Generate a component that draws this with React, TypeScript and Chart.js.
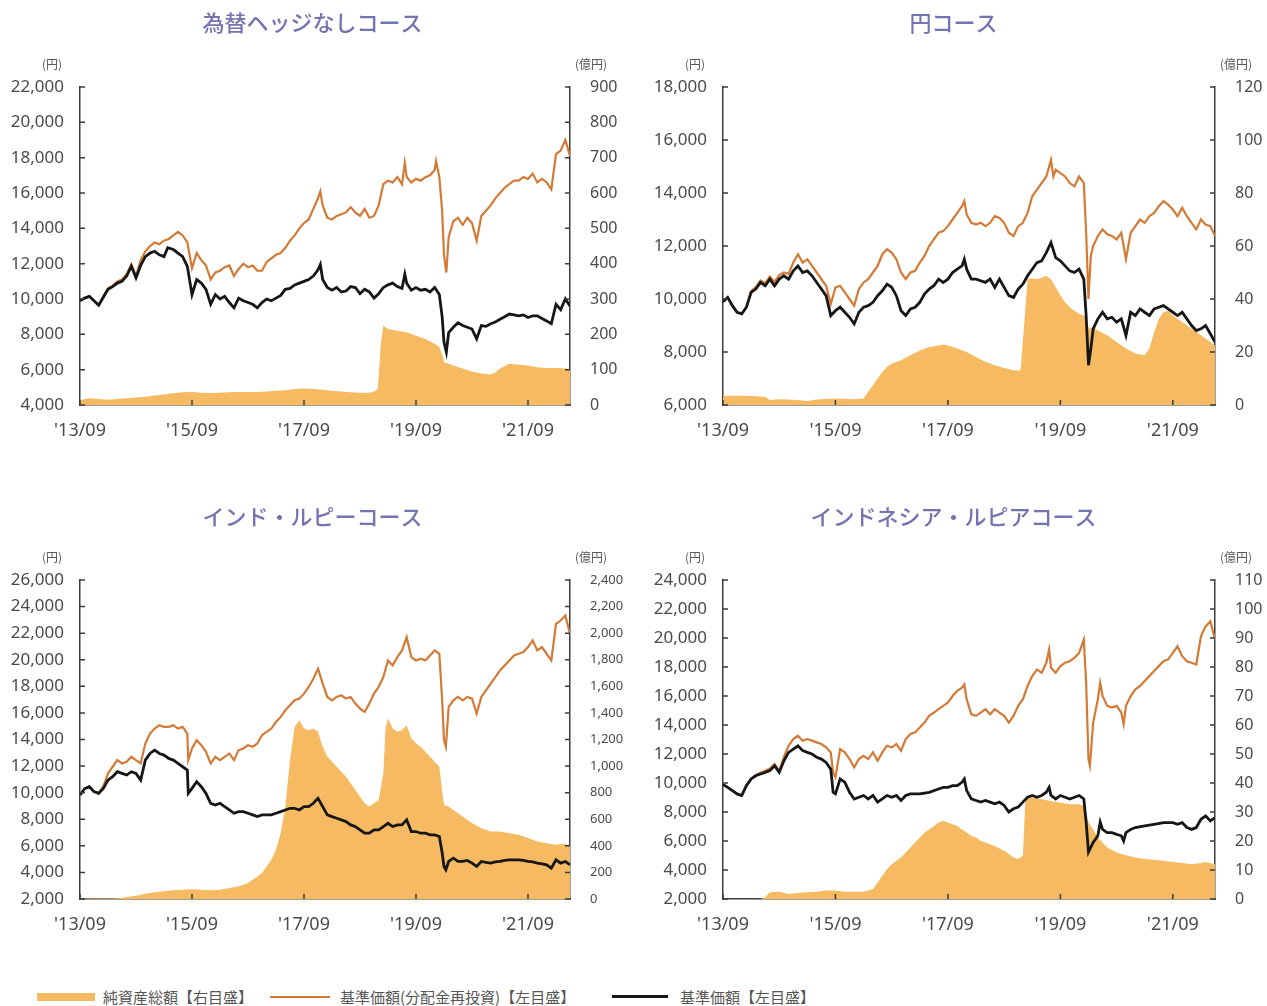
import React, { useEffect, useRef } from 'react';
import { Chart, registerables } from 'chart.js';

Chart.register(...registerables);

type Pt = [number, number];

// ---- shared labels ----
const xTickMonths = [0, 24, 48, 72, 96];
const xTickLabels = ["'13/09", "'15/09", "'17/09", "'19/09", "'21/09"];
const xMaxMonth = 105;
const panelTitles = ['為替ヘッジなしコース', '円コース', 'インド・ルピーコース', 'インドネシア・ルピアコース'];
const leftUnit = '(円)';
const rightUnit = '(億円)';
const seriesLabels = ['純資産総額【右目盛】', '基準価額(分配金再投資)【左目盛】', '基準価額【左目盛】'];

// axis ranges [min, max, step]
const leftRanges: number[][] = [[4000, 22000, 2000], [6000, 18000, 2000], [2000, 26000, 2000], [2000, 24000, 2000]];
const rightRanges: number[][] = [[0, 900, 100], [0, 120, 20], [0, 2400, 200], [0, 110, 10]];

// ---- 為替ヘッジなしコース ----
const c1Base: Pt[] = [[0,9900],[1,10050],[2,10150],[3,9900],[4,9650],[5,10100],[6,10550],[7,10700],[8,10900],[9,11000],[10,11300],[11,11850],[12,11200],[13,11900],[14,12400],[15,12600],[16,12700],[17,12500],[18,12400],[18.8,12900],[20,12800],[21,12600],[22,12400],[23,11850],[24,10250],[25,11100],[26,10900],[27,10550],[28,9700],[29,10250],[30,10000],[31,10150],[32,9800],[33,9500],[34,10050],[35,9900],[36,9800],[37,9700],[38,9500],[39,9800],[40,10000],[41,9900],[42,10050],[43,10200],[44,10550],[45,10600],[46,10800],[47,10900],[48,11000],[49,11100],[50,11300],[51,11650],[51.5,11950],[52,11100],[53,10650],[54,10500],[55,10650],[56,10400],[57,10450],[58,10700],[59,10650],[60,10300],[61,10550],[62,10400],[63,10050],[64,10300],[65,10650],[66,10800],[67,10900],[68,10700],[69,10600],[69.6,11400],[70,10900],[71,10500],[72,10650],[73,10500],[74,10550],[75,10400],[76,10650],[77,10250],[77.6,9000],[78,7550],[78.5,7000],[79,8100],[80,8400],[81,8650],[82,8500],[83,8400],[84,8300],[85,7750],[86,8500],[87,8450],[88,8600],[89,8700],[90,8850],[91,9000],[92,9150],[93,9100],[94,9050],[95,9100],[96,8950],[97,9050],[98,9050],[99,8900],[100,8750],[101,8600],[102,9700],[103,9400],[104,10000],[105,9600]];
const c1Reinv: Pt[] = [[0,9900],[1,10050],[2,10150],[3,9900],[4,9650],[5,10150],[6,10600],[7,10750],[8,11000],[9,11100],[10,11400],[11,11950],[12,11300],[13,12200],[14,12700],[15,13000],[16,13200],[17,13100],[18,13300],[19,13400],[20,13600],[21,13800],[22,13600],[23,13200],[24,11750],[25,12600],[26,12200],[27,11900],[28,11100],[29,11500],[30,11600],[31,11800],[32,11900],[33,11300],[34,11700],[35,12000],[36,11800],[37,11900],[38,11600],[39,11600],[40,12100],[41,12300],[42,12500],[43,12600],[44,12900],[45,13300],[46,13600],[47,14000],[48,14300],[49,14500],[50,15100],[51,15700],[51.5,16100],[52,15300],[53,14600],[54,14500],[55,14700],[56,14800],[57,14900],[58,15200],[59,14900],[60,14700],[61,15100],[62,14600],[63,14700],[64,15300],[65,16500],[66,16700],[67,16600],[68,16900],[69,16500],[69.6,17700],[70,16900],[71,16600],[72,16800],[73,16700],[74,16900],[75,17000],[76,17300],[76.3,17800],[77,16900],[77.6,15000],[78,12500],[78.5,11500],[79,13500],[80,14400],[81,14600],[82,14200],[83,14600],[84,14300],[85,13300],[86,14700],[87,15000],[88,15300],[89,15700],[90,16000],[91,16300],[92,16500],[93,16700],[94,16700],[95,16900],[96,16800],[97,17100],[98,16600],[99,16800],[100,16600],[101,16200],[102,18200],[103,18400],[104,19000],[105,18100]];
const c1Assets: Pt[] = [[0,14],[2,19],[4,17],[6,15],[8,17],[10,19],[12,21],[14,23],[16,27],[18,30],[20,33],[22,36],[24,37],[26,35],[28,34],[30,35],[32,36],[34,37],[36,37],[38,37],[40,38],[42,40],[44,42],[46,45],[48,47],[50,45],[52,43],[54,40],[56,38],[58,36],[60,35],[62,35],[63,38],[63.8,45],[64.5,178],[65,224],[66,215],[68,210],[70,206],[72,196],[74,187],[76,173],[77,164],[77.8,135],[78,121],[79,117],[80,112],[82,103],[84,95],[86,89],[88,86],[89,92],[90,103],[92,117],[94,114],[96,112],[98,107],[100,105],[102,105],[104,103],[105,101]];

// ---- 円コース ----
const c2Base: Pt[] = [[0,9900],[1,10060],[2,9750],[3,9500],[4,9440],[5,9690],[6,10250],[7,10375],[8,10625],[9,10500],[10,10750],[11,10500],[12,10750],[13,10875],[14,10750],[15,11060],[16,11250],[17,11000],[18,11060],[19,10875],[20,10625],[21,10375],[22,10125],[23,9375],[24,9560],[25,9690],[26,9500],[27,9310],[28,9060],[29,9500],[30,9690],[31,9750],[32,9875],[33,10125],[34,10310],[35,10560],[36,10440],[37,10125],[38,9560],[39,9375],[40,9625],[41,9690],[42,9875],[43,10190],[44,10375],[45,10500],[46,10750],[47,10625],[48,10750],[49,11000],[50,11125],[51,11250],[51.5,11500],[52,11125],[53,10750],[54,10750],[55,10690],[56,10625],[57,10750],[58,10440],[59,10750],[60,10440],[61,10125],[62,10060],[63,10375],[64,10560],[65,10875],[66,11125],[67,11375],[68,11440],[69,11750],[70,12125],[71,11560],[72,11440],[73,11250],[74,11060],[75,11000],[76,11125],[77,10750],[77.5,9375],[78,7500],[78.5,8125],[79,8875],[80,9250],[81,9500],[82,9250],[83,9310],[84,9125],[85,9250],[86,8625],[87,9500],[88,9375],[89,9625],[90,9500],[91,9375],[92,9625],[93,9690],[94,9750],[95,9625],[96,9500],[97,9375],[98,9500],[99,9250],[100,9000],[101,8810],[102,8875],[103,9000],[104,8690],[105,8375]];
const c2Reinv: Pt[] = [[0,9900],[1,10060],[2,9750],[3,9500],[4,9440],[5,9700],[6,10300],[7,10450],[8,10700],[9,10600],[10,10850],[11,10650],[12,10900],[13,11000],[14,10950],[15,11375],[16,11690],[17,11375],[18,11500],[19,11250],[20,11000],[21,10750],[22,10500],[23,9810],[24,10440],[25,10500],[26,10250],[27,10000],[28,9750],[29,10375],[30,10625],[31,10750],[32,11000],[33,11250],[34,11690],[35,11875],[36,11750],[37,11500],[38,11000],[39,10750],[40,11000],[41,11060],[42,11375],[43,11625],[44,12000],[45,12250],[46,12500],[47,12560],[48,12750],[49,13000],[50,13250],[51,13500],[51.5,13690],[52,13190],[53,12875],[54,12810],[55,12875],[56,12750],[57,12875],[58,13125],[59,13060],[60,12875],[61,12500],[62,12375],[63,12750],[64,12875],[65,13250],[66,13875],[67,14125],[68,14375],[69,14625],[70,15250],[70.5,14625],[71,14875],[72,14750],[73,14625],[74,14375],[75,14250],[76,14625],[77,14375],[77.5,12500],[78,10000],[78.5,11625],[79,12000],[80,12375],[81,12625],[82,12440],[83,12375],[84,12250],[85,12500],[86,11500],[87,12500],[88,12750],[89,13000],[90,12875],[91,13125],[92,13250],[93,13500],[94,13690],[95,13560],[96,13375],[97,13125],[98,13440],[99,13125],[100,12875],[101,12625],[102,13000],[103,12810],[104,12750],[105,12375]];
const c2Assets: Pt[] = [[0,3.5],[5,3.5],[9,3.1],[10,1.9],[12,2.2],[16,1.9],[18,1.5],[20,2.1],[24,2.5],[28,2.2],[30,2.5],[31,5],[32,7.5],[33,10],[34,12.5],[35,14.4],[36,15.6],[37,16.3],[38,16.9],[40,18.8],[42,20.6],[44,21.9],[46,22.5],[47,22.8],[48,22.5],[50,21.3],[52,20],[54,18.1],[56,16.3],[58,15],[60,14],[62,13.1],[63.5,13],[64.3,31],[65,47.5],[66,47.8],[67,47.5],[68,48],[69,48.8],[70,47.5],[71,44.4],[72,41.3],[73,38.8],[74,36.9],[75,35.6],[76,34.4],[77,33.8],[77.8,31],[78,28.8],[79,29.4],[80,28.1],[82,26.3],[84,23.8],[86,21.3],[88,19.4],[90,18.8],[91,21.3],[92,27.5],[93,32.5],[94,35],[95,35.6],[96,33.8],[98,31.3],[100,28.8],[102,26.3],[104,23.8],[105,22.5]];

// ---- インド・ルピーコース ----
const c3Base: Pt[] = [[0,9825],[1,10300],[2,10450],[3,10075],[4,9950],[5,10325],[6,10950],[7,11200],[8,11575],[9,11450],[10,11325],[11,11575],[12,11450],[13,10950],[14,12450],[15,12950],[16,13200],[17,12950],[18,12825],[19,12575],[20,12450],[21,12200],[22,11950],[23,11700],[23.2,9950],[24,10325],[25,10825],[26,10450],[27,9950],[28,9200],[29,9075],[30,9200],[31,8950],[32,8700],[33,8450],[34,8575],[35,8575],[36,8450],[37,8325],[38,8200],[39,8325],[40,8325],[41,8325],[42,8450],[43,8575],[44,8700],[45,8825],[46,8825],[47,8700],[48,8950],[49,8950],[50,9200],[51,9575],[52,8950],[53,8325],[54,8200],[55,8075],[56,7950],[57,7825],[58,7575],[59,7450],[60,7200],[61,6950],[62,6950],[63,7200],[64,7200],[65,7450],[66,7700],[67,7450],[68,7575],[69,7575],[70,7950],[71,7075],[72,7075],[73,6950],[74,6950],[75,6825],[76,6825],[77,6700],[77.6,5500],[78,4450],[78.4,4200],[79,4825],[80,5075],[81,4825],[82,4825],[83,4900],[84,4700],[85,4450],[86,4825],[87,4750],[88,4700],[89,4800],[90,4825],[91,4900],[92,4950],[93,4950],[94,4950],[95,4900],[96,4825],[97,4800],[98,4700],[99,4650],[100,4575],[101,4325],[102,4950],[103,4700],[104,4825],[105,4575]];
const c3Reinv: Pt[] = [[0,9825],[1,10300],[2,10450],[3,10075],[4,9950],[5,10500],[6,11450],[7,11950],[8,12450],[9,12200],[10,12325],[11,12700],[12,12450],[13,12200],[14,13700],[15,14450],[16,14825],[17,15075],[18,14950],[19,14950],[20,15075],[21,14825],[22,14950],[23,14450],[23.2,12450],[24,13325],[25,13950],[26,13575],[27,13075],[28,12200],[29,12700],[30,12450],[31,12700],[32,12950],[33,12450],[34,13200],[35,13325],[36,13575],[37,13450],[38,13700],[39,14325],[40,14575],[41,14825],[42,15325],[43,15700],[44,16200],[45,16575],[46,16950],[47,17075],[48,17450],[49,17950],[50,18575],[51,19325],[52,18200],[53,17200],[54,16950],[55,17200],[56,17325],[57,17075],[58,17200],[59,16700],[60,16325],[61,16075],[62,16700],[63,17450],[64,17950],[65,18700],[66,19950],[67,19575],[68,20200],[69,20700],[70,21700],[71,20200],[72,19950],[73,20075],[74,19950],[75,20325],[76,20700],[77,20450],[77.6,17000],[78,13950],[78.4,13450],[79,16450],[80,16950],[81,17200],[82,16950],[83,17200],[84,17075],[85,15950],[86,17200],[87,17700],[88,18200],[89,18700],[90,19200],[91,19575],[92,19950],[93,20325],[94,20450],[95,20575],[96,20950],[97,21450],[98,20700],[99,20950],[100,20450],[101,19950],[102,22700],[103,22950],[104,23325],[105,21950]];
const c3Assets: Pt[] = [[0,3],[4,4],[8,6],[10,15],[12,25],[14,40],[16,50],[18,58],[20,65],[22,70],[24,73],[26,70],[28,65],[30,70],[32,83],[34,95],[35,108],[36,120],[37,145],[38,170],[39,195],[40,245],[41,295],[42,370],[43,495],[44,695],[45,1045],[46,1295],[47,1345],[48,1283],[49,1270],[50,1283],[51,1258],[52,1145],[53,1070],[54,1033],[55,995],[56,958],[57,920],[58,870],[59,820],[60,770],[61,720],[62,695],[63,720],[64,745],[65,945],[65.5,1295],[66,1358],[67,1283],[68,1258],[69,1270],[70,1308],[71,1208],[72,1170],[73,1145],[74,1108],[75,1070],[76,1033],[77,995],[77.8,760],[78,708],[79,695],[80,670],[81,645],[82,620],[84,570],[86,533],[88,508],[90,508],[92,495],[94,483],[96,458],[98,433],[100,420],[102,408],[104,415],[105,395]];

// ---- インドネシア・ルピアコース ----
const c4Base: Pt[] = [[0,9900],[1,9700],[2,9480],[3,9250],[4,9140],[5,9820],[6,10280],[7,10500],[8,10620],[9,10730],[10,10850],[11,11190],[12,10730],[13,11530],[14,12110],[15,12340],[16,12570],[17,12230],[18,12110],[19,12000],[20,11770],[21,11650],[22,11420],[23,10960],[23.5,9360],[24,9250],[25,10280],[26,10050],[27,9360],[28,8900],[29,9020],[30,9140],[31,8900],[32,9140],[33,8680],[34,8900],[35,9140],[36,9020],[37,9140],[38,8790],[39,9140],[40,9250],[42,9250],[44,9360],[46,9590],[47,9700],[48,9700],[49,9820],[50,9820],[51,10050],[51.5,10280],[52,9480],[53,8900],[54,8790],[55,8680],[56,8790],[57,8680],[58,8560],[59,8680],[60,8450],[61,8000],[62,8220],[63,8340],[64,8680],[65,9020],[66,9140],[67,9020],[68,9140],[69,9360],[69.6,9700],[70,9140],[71,8900],[72,9140],[73,9020],[74,8900],[75,9020],[76,9140],[77,8900],[77.5,7300],[78,5240],[79,5900],[80,6360],[80.5,7300],[81,6800],[82,6580],[83,6580],[84,6460],[85,6360],[85.5,6000],[86,6580],[87,6800],[88,6930],[90,7040],[92,7150],[94,7270],[96,7270],[97,7150],[98,7270],[99,6930],[100,6800],[101,6930],[102,7500],[103,7730],[104,7380],[105,7610]];
const c4Reinv: Pt[] = [[0,9900],[1,9700],[2,9480],[3,9250],[4,9140],[5,9850],[6,10300],[7,10550],[8,10700],[9,10850],[10,11000],[11,11300],[12,10850],[13,11800],[14,12570],[15,13030],[16,13260],[17,12920],[18,13030],[19,12920],[20,12800],[21,12690],[22,12460],[23,12110],[23.5,10730],[24,10400],[25,12340],[26,12110],[27,11650],[28,11080],[29,11650],[30,11880],[31,11650],[32,12110],[33,11530],[34,12110],[35,12570],[36,12460],[37,12690],[38,12230],[39,13030],[40,13380],[41,13490],[42,13830],[43,14170],[44,14630],[45,14860],[46,15090],[47,15320],[48,15550],[49,16000],[50,16350],[51,16580],[51.5,16800],[52,15780],[53,14740],[54,14630],[55,14860],[56,15090],[57,14740],[58,15090],[59,14860],[60,14630],[61,14170],[62,14630],[63,15320],[64,15780],[65,16690],[66,17380],[67,17830],[68,17600],[69,18290],[69.6,19200],[70,17950],[71,17600],[72,18060],[73,18290],[74,18400],[75,18630],[76,18970],[77,19890],[77.5,16920],[78,11650],[78.3,11190],[79,14170],[80,15780],[80.5,16920],[81,16000],[82,15320],[83,15200],[84,15320],[85,14860],[85.5,14050],[86,15320],[87,16000],[88,16460],[89,16690],[90,17030],[91,17380],[92,17720],[93,18060],[94,18400],[95,18520],[96,18970],[97,19430],[98,18750],[99,18400],[100,18290],[101,18170],[102,20120],[103,20800],[104,21150],[105,19890]];
const c4Assets: Pt[] = [[0,0],[8,0],[9,0.6],[10,2.3],[12,2.5],[14,1.7],[16,2.1],[18,2.3],[20,2.5],[22,2.9],[24,2.9],[26,2.5],[28,2.5],[30,2.5],[32,3.4],[33,5.7],[34,8],[35,10.3],[36,12],[37,13.2],[38,14.3],[39,16],[40,17.8],[41,19.5],[42,21.2],[43,22.9],[44,24],[45,25.2],[46,26.4],[47,26.9],[48,26.4],[49,25.8],[50,25.2],[51,24],[52,22.9],[53,21.8],[54,21.2],[55,20],[56,19.5],[58,18.3],[60,16.6],[61,15.5],[62,14.3],[63,13.8],[64,14.9],[64.5,33.2],[65,35],[66,35],[68,34.4],[70,33.8],[72,33.2],[74,32.7],[76,32.7],[77,32.1],[78,26.4],[79,24],[80,21.2],[81,19.5],[82,17.8],[84,16],[86,15.1],[88,14.3],[90,13.8],[92,13.5],[94,13.2],[96,12.8],[98,12.4],[100,12],[102,12.4],[103,12.8],[105,12]];

const panelAssets = [c1Assets, c2Assets, c3Assets, c4Assets];
const panelReinv = [c1Reinv, c2Reinv, c3Reinv, c4Reinv];
const panelBase = [c1Base, c2Base, c3Base, c4Base];

// ---- styles ----
const FILL = '#F5BA62';
const ORANGE = '#D27A36';
const BLACK = '#161616';
const AXIS = '#3c3c3c';
const TICK_TEXT = '#4a4a4a';
const TITLE_COLOR = '#7474b0';
const SANS = '"Noto Sans", "Noto Sans CJK JP", sans-serif';
const CJK = '"Noto Sans CJK JP", "Noto Sans", sans-serif';

type Layout = { left: number; top: number; width: number; height: number; plotLeft: number; plotRight: number; plotTop: number; plotBottom: number; rightFont: number };

const layouts: Layout[] = [
  { left: 0, top: 0, width: 625, height: 445, plotLeft: 80, plotRight: 570, plotTop: 87, plotBottom: 405, rightFont: 16 },
  { left: 640, top: 0, width: 627, height: 445, plotLeft: 83, plotRight: 575, plotTop: 87, plotBottom: 405, rightFont: 16 },
  { left: 0, top: 494, width: 625, height: 445, plotLeft: 80, plotRight: 570, plotTop: 86, plotBottom: 405, rightFont: 13 },
  { left: 640, top: 494, width: 627, height: 445, plotLeft: 83, plotRight: 575, plotTop: 86, plotBottom: 405, rightFont: 16 },
];

const innerTicks = {
  id: 'innerTicks',
  afterDatasetsDraw(chart: any) {
    const { ctx, chartArea, scales } = chart;
    const L = 5;
    ctx.save();
    ctx.strokeStyle = AXIS;
    ctx.lineWidth = 1.5;
    ctx.beginPath();
    scales.y.ticks.forEach((t: any) => {
      const py = scales.y.getPixelForValue(t.value);
      ctx.moveTo(chartArea.left, py);
      ctx.lineTo(chartArea.left + L, py);
    });
    scales.y1.ticks.forEach((t: any) => {
      const py = scales.y1.getPixelForValue(t.value);
      ctx.moveTo(chartArea.right, py);
      ctx.lineTo(chartArea.right - L, py);
    });
    scales.x.ticks.forEach((t: any) => {
      const px = scales.x.getPixelForValue(t.value);
      ctx.moveTo(px, chartArea.bottom);
      ctx.lineTo(px, chartArea.bottom - L);
    });
    ctx.stroke();
    ctx.restore();
  },
};

const unitLabels = {
  id: 'unitLabels',
  afterDraw(chart: any) {
    const { ctx, chartArea } = chart;
    ctx.save();
    ctx.font = `12px ${CJK}`;
    ctx.fillStyle = '#5a5a5a';
    ctx.textAlign = 'center';
    ctx.textBaseline = 'middle';
    ctx.fillText(leftUnit, chartArea.left - 28, chartArea.top - 23);
    ctx.fillText(rightUnit, chartArea.right + 21, chartArea.top - 23);
    ctx.restore();
  },
};

const toXY = (a: Pt[]) => a.map(([x, y]) => ({ x, y }));

function Panel({ index }: { index: number }) {
  const ref = useRef<HTMLCanvasElement | null>(null);
  const lay = layouts[index];
  useEffect(() => {
    if (!ref.current) return;
    const [lmin, lmax, lstep] = leftRanges[index];
    const [rmin, rmax, rstep] = rightRanges[index];
    const titleSize = 22;
    const chart = new Chart(ref.current, {
      type: 'line',
      data: {
        datasets: [
          { label: seriesLabels[0], data: toXY(panelAssets[index]), yAxisID: 'y1', fill: 'origin', backgroundColor: FILL, borderColor: FILL, borderWidth: 0, pointRadius: 0, tension: 0, order: 3 },
          { label: seriesLabels[1], data: toXY(panelReinv[index]), yAxisID: 'y', fill: false, borderColor: ORANGE, borderWidth: 2.2, pointRadius: 0, tension: 0, order: 2 },
          { label: seriesLabels[2], data: toXY(panelBase[index]), yAxisID: 'y', fill: false, borderColor: BLACK, borderWidth: 2.8, pointRadius: 0, tension: 0, order: 1 },
        ],
      } as any,
      options: {
        animation: false,
        responsive: true,
        maintainAspectRatio: false,
        locale: 'en-US',
        layout: { padding: 0 },
        events: [],
        plugins: {
          legend: { display: false },
          tooltip: { enabled: false },
          title: {
            display: true,
            text: panelTitles[index],
            color: TITLE_COLOR,
            font: { family: CJK, size: titleSize, weight: '500' as any, lineHeight: 1.2 },
            padding: { top: 9, bottom: lay.plotTop - 9 - titleSize * 1.2 },
          },
        },
        scales: {
          x: {
            type: 'linear',
            min: 0,
            max: xMaxMonth,
            afterBuildTicks: (s: any) => { s.ticks = xTickMonths.map((v) => ({ value: v })); },
            afterFit: (s: any) => { s.height = lay.height - lay.plotBottom; },
            grid: { display: false },
            border: { display: true, color: AXIS, width: 1.5 },
            ticks: {
              color: TICK_TEXT,
              font: { family: SANS, size: 18 },
              padding: 7,
              maxRotation: 0,
              autoSkip: false,
              callback: (v: any) => xTickLabels[xTickMonths.indexOf(Number(v))] ?? '',
            },
          },
          y: {
            type: 'linear',
            position: 'left',
            min: lmin,
            max: lmax,
            afterFit: (s: any) => { s.width = lay.plotLeft; },
            grid: { display: false },
            border: { display: true, color: AXIS, width: 1.5 },
            ticks: { stepSize: lstep, color: TICK_TEXT, font: { family: SANS, size: 17 }, padding: 8 },
          },
          y1: {
            type: 'linear',
            position: 'right',
            min: rmin,
            max: rmax,
            afterFit: (s: any) => { s.width = lay.width - lay.plotRight; },
            grid: { display: false },
            border: { display: true, color: AXIS, width: 1.5 },
            ticks: { stepSize: rstep, color: TICK_TEXT, font: { family: SANS, size: lay.rightFont }, padding: 12 },
          },
        },
      } as any,
      plugins: [innerTicks, unitLabels],
    });
    return () => chart.destroy();
  }, [index]);
  return (
    <div style={{ position: 'absolute', left: lay.left, top: lay.top, width: lay.width, height: lay.height }}>
      <canvas ref={ref} />
    </div>
  );
}

function Legend() {
  const text: React.CSSProperties = { position: 'absolute', top: 986, fontFamily: CJK, fontSize: 15, color: '#555', lineHeight: '22px', whiteSpace: 'nowrap' };
  return (
    <>
      <div style={{ position: 'absolute', left: 37, top: 993, width: 58, height: 8, background: FILL }} />
      <div style={{ ...text, left: 103 }}>{seriesLabels[0]}</div>
      <div style={{ position: 'absolute', left: 270, top: 996, width: 60, height: 2, background: ORANGE }} />
      <div style={{ ...text, left: 340 }}>{seriesLabels[1]}</div>
      <div style={{ position: 'absolute', left: 612, top: 995, width: 56, height: 3, background: BLACK }} />
      <div style={{ ...text, left: 680 }}>{seriesLabels[2]}</div>
    </>
  );
}

export default function App() {
  return (
    <div style={{ position: 'absolute', left: 0, top: 0, width: 1267, height: 1006, background: '#fff', overflow: 'hidden' }}>
      {[0, 1, 2, 3].map((i) => <Panel key={i} index={i} />)}
      <Legend />
    </div>
  );
}
